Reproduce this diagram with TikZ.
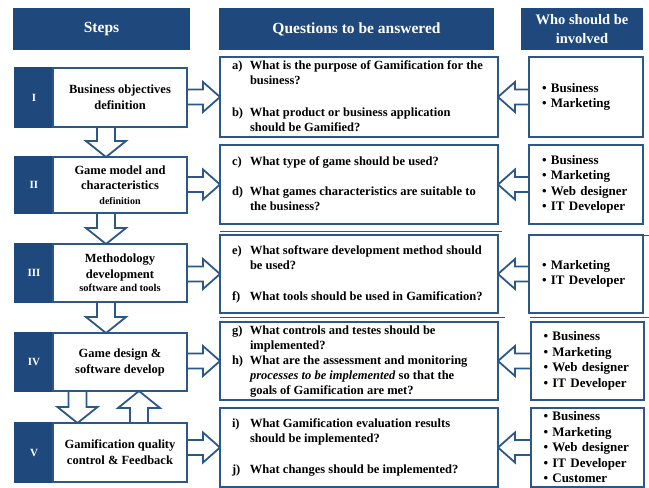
\documentclass[tikz,border=0pt]{standalone}
\usepackage{fontspec}
\setmainfont{Liberation Serif}
\usetikzlibrary{calc}
\definecolor{hdrblue}{HTML}{1F497D}
\definecolor{lineblue}{HTML}{2B5889}
\pgfdeclarelayer{bg}
\pgfsetlayers{bg,main}

\tikzset{
  hdr/.style={fill=hdrblue, draw=none, text=white, inner sep=0pt, outer sep=0pt,
    anchor=north west, align=center, font=\bfseries\fontsize{15.5}{19}\selectfont},
  frame/.style={draw=lineblue, line width=2pt, fill=white, inner sep=0pt,
    outer sep=0pt, anchor=north west},
  numbox/.style={frame, fill=hdrblue, draw=hdrblue, text=white, minimum width=38pt,
    font=\bfseries\fontsize{11}{13}\selectfont},
  stepbox/.style={frame, minimum width=134pt, align=center,
    font=\bfseries\fontsize{12.5}{16}\selectfont},
  qbox/.style={frame, minimum width=278pt, font=\bfseries\fontsize{12.5}{15}\selectfont},
  whobox/.style={frame, minimum width=114pt, text width=88pt, align=left,
    font=\bfseries\fontsize{13}{15.5}\selectfont},
  barrow/.style={draw=lineblue, line width=1.8pt, fill=white, line join=miter},
  seam/.style={draw=lineblue, line width=1pt},
}

% question list: fixed label column, then the question lines
\newcommand{\qcol}[1]{\makebox[254pt][l]{#1}}

% block arrows: #1 tail, #2 tip
\newcommand{\arrowright}[2]{%
  \draw[barrow] ($(#1)+(0,-7.5)$) -- ($(#2)+(-17,-7.5)$) -- ($(#2)+(-17,-15)$) -- (#2)
    -- ($(#2)+(-17,15)$) -- ($(#2)+(-17,7.5)$) -- ($(#1)+(0,7.5)$);}
\newcommand{\arrowleft}[2]{%
  \draw[barrow] ($(#1)+(0,-7.5)$) -- ($(#2)+(17,-7.5)$) -- ($(#2)+(17,-15)$) -- (#2)
    -- ($(#2)+(17,15)$) -- ($(#2)+(17,7.5)$) -- ($(#1)+(0,7.5)$);}
\newcommand{\arrowdown}[2]{%
  \draw[barrow] ($(#1)+(-9,0)$) -- ($(#2)+(-9,-16)$) -- ($(#2)+(-20,-16)$) -- (#2)
    -- ($(#2)+(20,-16)$) -- ($(#2)+(9,-16)$) -- ($(#1)+(9,0)$);}
\newcommand{\arrowup}[2]{%
  \draw[barrow] ($(#1)+(-9,0)$) -- ($(#2)+(-9,17)$) -- ($(#2)+(-21,17)$) -- (#2)
    -- ($(#2)+(21,17)$) -- ($(#2)+(9,17)$) -- ($(#1)+(9,0)$);}

\begin{document}
\begin{tikzpicture}[x=1pt, y=-1pt]
\useasboundingbox (0,0) rectangle (649,488);

% column headers
\node[hdr, minimum width=177pt, minimum height=42pt] (hsteps) at (13,8) {Steps};
\node[hdr, minimum width=275pt, minimum height=42pt] (hquest) at (219,8) {Questions to be answered};
\node[hdr, minimum width=122pt, minimum height=42pt, font=\bfseries\fontsize{14.5}{19}\selectfont]
  (hwho) at (521,8) {Who should be\\involved};

% steps
\node[numbox, minimum height=59pt] (n1) at (15,68) {I};
\node[stepbox, minimum height=59pt] (s1) at (53,68) {Business objectives\\definition};
\node[numbox, minimum height=56pt] (n2) at (15,157) {II};
\node[stepbox, minimum height=56pt] (s2) at (53,157)
  {Game model and\\[-1pt]characteristics\\[-1pt]{\fontsize{10}{12}\selectfont definition}};
\node[numbox, minimum height=58pt] (n3) at (15,244) {III};
\node[stepbox, minimum height=58pt] (s3) at (53,244)
  {Methodology\\development\\[-3pt]{\fontsize{10.5}{12}\selectfont software and tools}};
\node[numbox, minimum height=58pt] (n4) at (15,333) {IV};
\node[stepbox, minimum height=58pt] (s4) at (53,333) {Game design \&\\software develop};
\node[numbox, minimum height=59pt] (n5) at (15,423) {V};
\node[stepbox, minimum height=59pt] (s5) at (53,423) {Gamification quality\\control \& Feedback};

% questions
\node[qbox, minimum height=80pt] (q1) at (220,57) {\qcol{\begin{tabular}{@{}p{18pt}@{}l@{}}
  a) & What is the purpose of Gamification for the\\
     & business?\\[17pt]
  b) & What product or business application\\
     & should be Gamified?
  \end{tabular}}};
\node[qbox, minimum height=79pt] (q2) at (220,145) {\qcol{\begin{tabular}{@{}p{18pt}@{}l@{}}
  c) & What type of game should be used?\\[15pt]
  d) & What games characteristics are suitable to\\
     & the business?
  \end{tabular}}};
\node[qbox, minimum height=78pt] (q3) at (220,235) {\qcol{\begin{tabular}{@{}p{18pt}@{}l@{}}
  e) & What software development method should\\
     & be used?\\[16pt]
  f) & What tools should be used in Gamification?
  \end{tabular}}};
\node[qbox, minimum height=78pt] (q4) at (220,322) {\qcol{\begin{tabular}{@{}p{18pt}@{}l@{}}
  g) & What controls and testes should be\\
     & implemented?\\
  h) & What are the assessment and monitoring\\
     & \textit{processes to be implemented} so that the\\
     & goals of Gamification are met?
  \end{tabular}}};
\node[qbox, minimum height=79pt] (q5) at (220,408) {\qcol{\begin{tabular}{@{}p{18pt}@{}l@{}}
  i) & What Gamification evaluation results\\
     & should be implemented?\\[16pt]
  j) & What changes should be implemented?
  \end{tabular}}};

% who is involved
\node[whobox, minimum height=80pt] (w1) at (529,57) {•~Business\\•~Marketing};
\node[whobox, minimum height=79pt] (w2) at (529,145)
  {•~Business\\•~Marketing\\•~Web designer\\•~IT Developer};
\node[whobox, minimum height=78pt] (w3) at (529,235) {•~Marketing\\•~IT Developer};
\node[whobox, minimum width=113pt, minimum height=78pt] (w4) at (531,322)
  {•~Business\\•~Marketing\\•~Web designer\\•~IT Developer};
\node[whobox, minimum width=113pt, minimum height=79pt] (w5) at (531,408)
  {•~Business\\•~Marketing\\•~Web designer\\•~IT Developer\\•~Customer};

% ruled seams around the third row
\draw[seam] (220,231) -- (502,231);
\draw[seam] (643,235) -- (649,235);
\draw[seam] (220,317.5) -- (505,317.5);
\draw[seam] (530,317.5) -- (649,317.5);

\begin{pgfonlayer}{bg}
  % step -> questions
  \arrowright{s1.east |- q1.west}{q1.west}
  \arrowright{s2.east |- q2.west}{q2.west}
  \arrowright{s3.east |- q3.west}{q3.west}
  \arrowright{s4.east |- q4.west}{q4.west}
  \arrowright{s5.east |- q5.west}{q5.west}
  % people -> questions
  \arrowleft{w1.west}{q1.east |- w1.west}
  \arrowleft{w2.west}{q2.east |- w2.west}
  \arrowleft{w3.west}{q3.east |- w3.west}
  \arrowleft{w4.west}{q4.east |- w4.west}
  \arrowleft{w5.west}{q5.east |- w5.west}
  % step sequence
  \arrowdown{$(s1.south west)+(53,0)$}{$(s2.north west)+(53,0)$}
  \arrowdown{$(s2.south west)+(53,0)$}{$(s3.north west)+(53,0)$}
  \arrowdown{$(s3.south west)+(53,0)$}{$(s4.north west)+(53,0)$}
  \arrowdown{$(s4.south west)+(24.5,0)$}{$(s5.north west)+(24.5,0)$}
  \arrowup{$(s5.north west)+(86,0)$}{$(s4.south west)+(86,0)$}
\end{pgfonlayer}
\end{tikzpicture}
\end{document}
